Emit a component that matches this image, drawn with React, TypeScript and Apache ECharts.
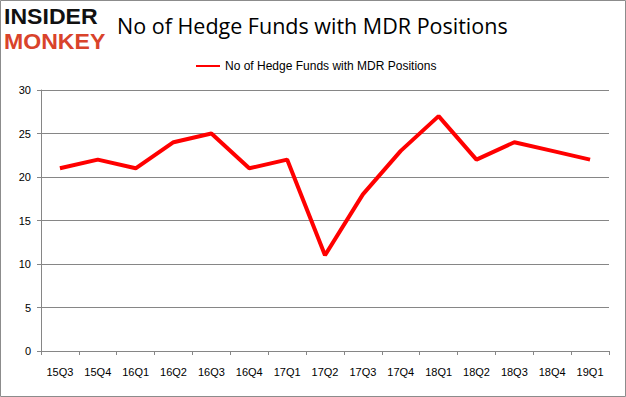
import React, { useEffect, useRef } from "react";
import * as echarts from "echarts";

const categories = ["15Q3", "15Q4", "16Q1", "16Q2", "16Q3", "16Q4", "17Q1", "17Q2", "17Q3", "17Q4", "18Q1", "18Q2", "18Q3", "18Q4", "19Q1"];
const hedgeFunds = [21, 22, 21, 24, 25, 21, 22, 11, 18, 23, 27, 22, 24, 23, 22];
const seriesName = "No of Hedge Funds with MDR Positions";
const titleText = "No of Hedge Funds with MDR Positions";

export default function App() {
  const ref = useRef<HTMLDivElement>(null);
  useEffect(() => {
    if (!ref.current) return;
    const chart = echarts.init(ref.current, null, { renderer: "svg" });
    const axisColor = "#868686";
    const font = "'Liberation Sans', Arial, sans-serif";
    chart.setOption({
      animation: false,
      backgroundColor: "#ffffff",
      grid: { left: 41, right: 17, top: 90, bottom: 46, containLabel: false },
      legend: {
        top: 55,
        left: 191,
        itemWidth: 24,
        itemHeight: 14,
        itemGap: 4,
        icon: "path://M0,6 L24,6 L24,8 L0,8 Z",
        textStyle: { fontFamily: font, fontSize: 12, color: "#000" },
        data: [{ name: seriesName, itemStyle: { color: "#ff0000" } }],
      },
      xAxis: {
        type: "category",
        data: categories,
        boundaryGap: true,
        axisLine: { lineStyle: { color: axisColor } },
        axisTick: { show: true, alignWithLabel: false, length: 4, lineStyle: { color: axisColor } },
        axisLabel: { fontFamily: font, fontSize: 11, color: "#000", margin: 15 },
      },
      yAxis: {
        type: "value",
        min: 0,
        max: 30,
        interval: 5,
        axisLine: { show: true, lineStyle: { color: axisColor } },
        axisTick: { show: true, length: 4, lineStyle: { color: axisColor } },
        splitLine: { lineStyle: { color: axisColor, width: 1 } },
        axisLabel: { fontFamily: font, fontSize: 11, color: "#000", margin: 10 },
      },
      series: [
        {
          name: seriesName,
          type: "line",
          data: hedgeFunds,
          showSymbol: false,
          symbol: "none",
          lineStyle: { color: "#ff0000", width: 4 },
          itemStyle: { color: "#ff0000" },
        },
      ],
      graphic: [
        {
          type: "rect",
          shape: { x: 0.5, y: 0.5, width: 625, height: 396 },
          style: { fill: "none", stroke: "#8c8c8c", lineWidth: 1 },
        },
        {
          type: "text",
          left: 4,
          top: 6,
          style: { text: "INSIDER", font: `bold 22px ${font}`, fill: "#111111" },
          scaleX: 1.05,
        },
        {
          type: "text",
          left: 4,
          top: 31,
          style: { text: "MONKEY", font: `bold 22px ${font}`, fill: "#d9432b" },
          scaleX: 1.05,
        },
        {
          type: "text",
          left: 117,
          top: 14,
          style: { text: titleText, font: `21.5px 'Open Sans', ${font}`, fill: "#000000" },
        },
      ],
    });
    return () => chart.dispose();
  }, []);
  return <div ref={ref} style={{ position: "fixed", left: 0, top: 0, width: 626, height: 397 }} />;
}
